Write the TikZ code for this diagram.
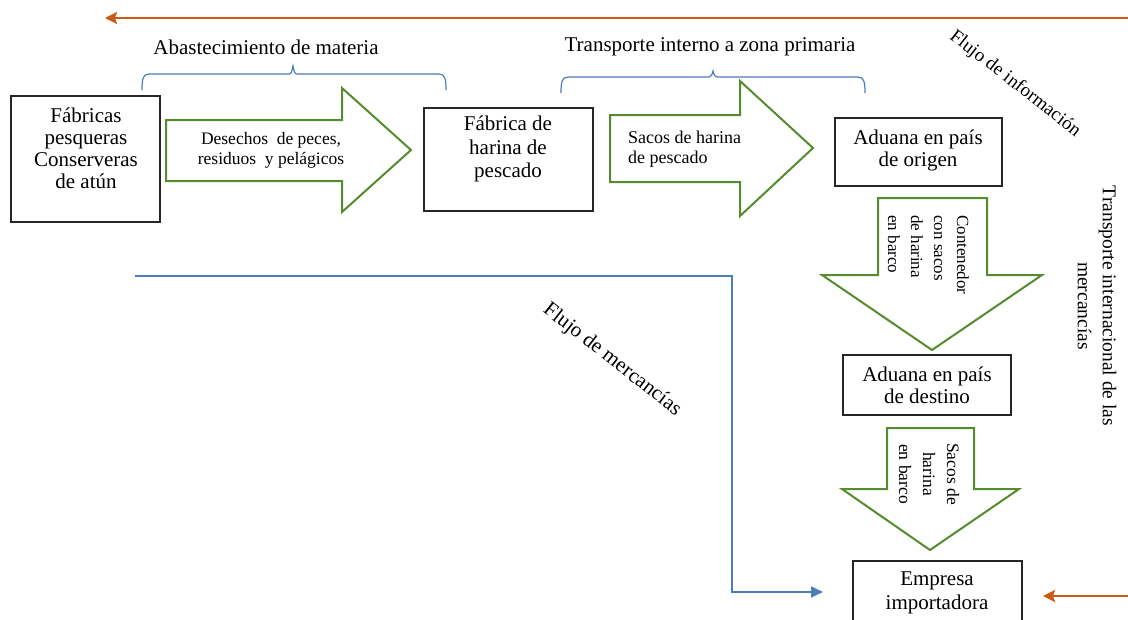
\documentclass[tikz,border=0pt]{standalone}
\usepackage{fontspec}
\setmainfont{Liberation Serif}
\usetikzlibrary{arrows.meta}
\definecolor{orng}{RGB}{200,92,22}
\definecolor{blu}{RGB}{74,126,187}
\definecolor{grn}{RGB}{84,140,46}
\begin{document}
\begin{tikzpicture}[x=1pt,y=-1pt,
  boxshape/.style={draw=black!85,line width=1.1pt,fill=white,inner sep=0pt},
  boxtext/.style={align=center,font=\fontsize{21}{22}\selectfont,inner sep=0pt},
  arrtext/.style={font=\fontsize{17.5}{20}\selectfont,inner sep=0pt},
  vtext/.style={font=\fontsize{17.5}{22.5}\selectfont,inner sep=0pt,rotate=-90},
  lbl/.style={font=\fontsize{21}{22}\selectfont,inner sep=0pt},
  blockarrow/.style={draw=grn,line width=2pt,fill=white,line join=miter},
  brace/.style={draw=blu,line width=1.2pt},
  infoflow/.style={draw=orng,line width=2.4pt,-{Stealth[length=12pt,width=12pt,inset=2pt]}},
  goodsflow/.style={draw=blu,line width=1.6pt,-{Triangle[length=12pt,width=11pt]}}
]
\useasboundingbox (0,0) rectangle (1128,619);
\fill[white] (0,0) rectangle (1128,619);
\begin{scope}
\clip (0,0) rectangle (1128,619);

% boxes
\node[boxshape,minimum width=149pt,minimum height=126pt] (b1) at (85.5,159) {};
\node[boxtext] (b1t) at (86,148) {Fábricas\\pesqueras\\Conserveras\\de atún};

\node[boxshape,minimum width=169pt,minimum height=103pt] (b2) at (508.5,159.5) {};
\node[boxtext,font=\fontsize{21}{23.5}\selectfont] (b2t) at (508,149) {Fábrica de\\harina de\\pescado};

\node[boxshape,minimum width=167pt,minimum height=68pt] (b3) at (918.5,152) {};
\node[boxtext] (b3t) at (918,150) {Aduana en país\\de origen};

\node[boxshape,minimum width=168pt,minimum height=60pt] (b4) at (927,385) {};
\node[boxtext] (b4t) at (927,385) {Aduana en país\\de destino};

\node[boxshape,minimum width=169pt,minimum height=80pt] (b5) at (937.5,601) {};
\node[boxtext,font=\fontsize{21}{24}\selectfont] (b5t) at (937,593) {Empresa\\importadora};

% green block arrows
\draw[blockarrow] (166,120) -- (342,120) -- (342,88) -- (411,150) -- (342,212) -- (342,181) -- (166,181) -- cycle;
\node[arrtext,align=center] (a1t) at (271,150) {Desechos\ \ de peces,\\residuos\ \ y pelágicos};

\draw[blockarrow] (610,115) -- (740,115) -- (740,81) -- (813,148) -- (740,216) -- (740,182) -- (610,182) -- cycle;
\node[arrtext,align=left,font=\fontsize{18}{20}\selectfont,anchor=west] (a2t) at (628,149) {Sacos de harina\\de pescado};

\draw[blockarrow] (878,198) -- (987,198) -- (987,275) -- (1042,275) -- (932,350) -- (822,275) -- (878,275) -- cycle;
\node[vtext,align=left,anchor=west,font=\fontsize{17}{23}\selectfont] (a3t) at (928.5,215) {Contenedor\\con sacos\\de harina\\en barco};

\draw[blockarrow] (887,428) -- (974,428) -- (974,489) -- (1019,489) -- (930,550) -- (842,489) -- (887,489) -- cycle;
\node[vtext,align=center,font=\fontsize{17.5}{24}\selectfont] (a4t) at (929,474) {Sacos de\\harina\\en barco};

% braces
\draw[brace] (142,90) .. controls (142,79) and (143,74) .. (149,74) -- (289,74)
  .. controls (291.5,74) and (292,71) .. (293,66) .. controls (294,71) and (294.5,74) .. (297,74)
  -- (439,74) .. controls (445,74) and (446,79) .. (446,90);
\draw[brace] (561,93) .. controls (561,82) and (562,77) .. (568,77) -- (709,77)
  .. controls (711.5,77) and (712,74.5) .. (713,71) .. controls (714,74.5) and (714.5,77) .. (717,77)
  -- (858,77) .. controls (864,77) and (865,82) .. (865,93);

% labels
\node[lbl] (l1) at (266,47) {Abastecimiento de materia};
\node[lbl] (l2) at (710,47) {Transporte interno a zona primaria};
\node[lbl,font=\fontsize{19}{22}\selectfont,rotate=-38] (l3) at (1015,84) {Flujo de información};
\node[lbl,font=\fontsize{21}{22}\selectfont,rotate=-38] (l4) at (612,360) {Flujo de mercancías};
\node[vtext,align=center,font=\fontsize{19.5}{25}\selectfont] (l5) at (1097,306) {Transporte internacional de las\\mercancías};

% flows
\coordinate (infoR) at (1128,18);
\coordinate (infoL) at (105,18);
\draw[infoflow] (infoR) -- (infoL);
\coordinate (info2R) at (1128,596);
\coordinate (info2L) at (1043,596);
\draw[infoflow] (info2R) -- (info2L);
\coordinate (goodsS) at (135,276);
\coordinate (goodsE) at (823,592);
\draw[goodsflow] (goodsS) -| (732,592) -- (goodsE);
\end{scope}
\end{tikzpicture}
\end{document}
